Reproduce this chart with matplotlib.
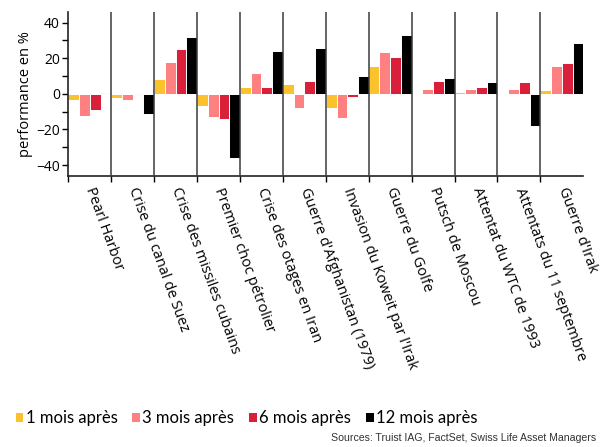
import matplotlib
matplotlib.use("Agg")
import matplotlib.pyplot as plt
from matplotlib.patches import Patch
import numpy as np

events = [
    "Pearl Harbor",
    "Crise du canal de Suez",
    "Crise des missiles cubains",
    "Premier choc pétrolier",
    "Crise des otages en Iran",
    "Guerre d'Afghanistan (1979)",
    "Invasion du Koweit par l'Irak",
    "Guerre du Golfe",
    "Putsch de Moscou",
    "Attentat du WTC de 1993",
    "Attentats du 11 septembre",
    "Guerre d'Irak",
]

perf_1m = [-3.2, -2.6, 8.6, -6.9, 4.1, 5.6, -8.1, 15.4, 0.0, 1.2, 0.3, 2.4]
perf_3m = [-12.5, -3.7, 17.8, -13.1, 11.8, -7.9, -13.5, 23.6, 3.0, 2.8, 2.8, 15.7]
perf_6m = [-9.0, -0.4, 25.3, -14.2, 3.9, 7.1, -1.9, 20.8, 7.3, 4.1, 6.9, 17.6]
perf_12m = [0.4, -11.4, 31.8, -36.0, 24.3, 25.7, 10.1, 33.1, 8.8, 6.4, -18.2, 28.5]

series_labels = ["1 mois après", "3 mois après", "6 mois après", "12 mois après"]
colors = ["#FCC22E", "#FF8080", "#D91F3A", "#000000"]

fig = plt.figure(figsize=(6.09, 4.47), dpi=100)
ax = fig.add_axes([0.1122, 0.6069, 0.8456, 0.3663])

x = np.arange(len(events))
width = 0.25
all_series = [perf_1m, perf_3m, perf_6m, perf_12m]
for k, (vals, col) in enumerate(zip(all_series, colors)):
    offset = (k - 1.5) * width
    ax.bar(x + offset, vals, width, color=col, edgecolor="white", linewidth=0.7, zorder=2)

# separators between events
for b in np.arange(0.5, len(events) - 1, 1.0):
    ax.axvline(b, color="#3a3a3a", linewidth=1.1, zorder=3)

ax.set_xlim(-0.5, len(events) - 0.5)
ax.set_ylim(-46, 46)

# y axis
ax.set_yticks([-40, -20, 0, 20, 40])
ax.set_yticks([-30, -10, 10, 30], minor=True)
ax.tick_params(axis="y", which="major", length=4, width=1, labelsize=10, pad=2)
ax.tick_params(axis="y", which="minor", length=4, width=1)
for lbl in ax.get_yticklabels():
    lbl.set_fontfamily("Open Sans")
ax.set_ylabel("performance en %", fontsize=10.5, family="Open Sans", labelpad=2)

# x axis: ticks at boundaries, labels at centres
ax.set_xticks(np.arange(-0.5, len(events) - 1, 1.0))
ax.set_xticklabels([])
ax.set_xticks(x, minor=True)
ax.set_xticklabels(events, minor=True, rotation=-70, rotation_mode="anchor",
                   ha="left", va="center", fontsize=10.5, family="Open Sans")
ax.tick_params(axis="x", which="major", length=4, width=1, direction="out")
ax.tick_params(axis="x", which="minor", length=0, pad=9)

for side in ["top", "right"]:
    ax.spines[side].set_visible(False)
for side in ["left", "bottom"]:
    ax.spines[side].set_linewidth(1.2)
    ax.spines[side].set_color("#222222")

handles = [Patch(facecolor=c, edgecolor="none") for c in colors]
fig.legend(handles, series_labels, loc="center", bbox_to_anchor=(0.405, 0.064),
           ncol=4, frameon=False, handlelength=0.45, handleheight=0.45,
           handletextpad=0.15, columnspacing=0.9, borderaxespad=0,
           prop={"family": "Lato", "size": 12})

fig.text(0.979, 1 - 438 / 447, "Sources: Truist IAG, FactSet, Swiss Life Asset Managers",
         ha="right", va="center", fontsize=7.6, family="Liberation Sans", color="#333333")

fig.savefig("out.png", dpi=100)
